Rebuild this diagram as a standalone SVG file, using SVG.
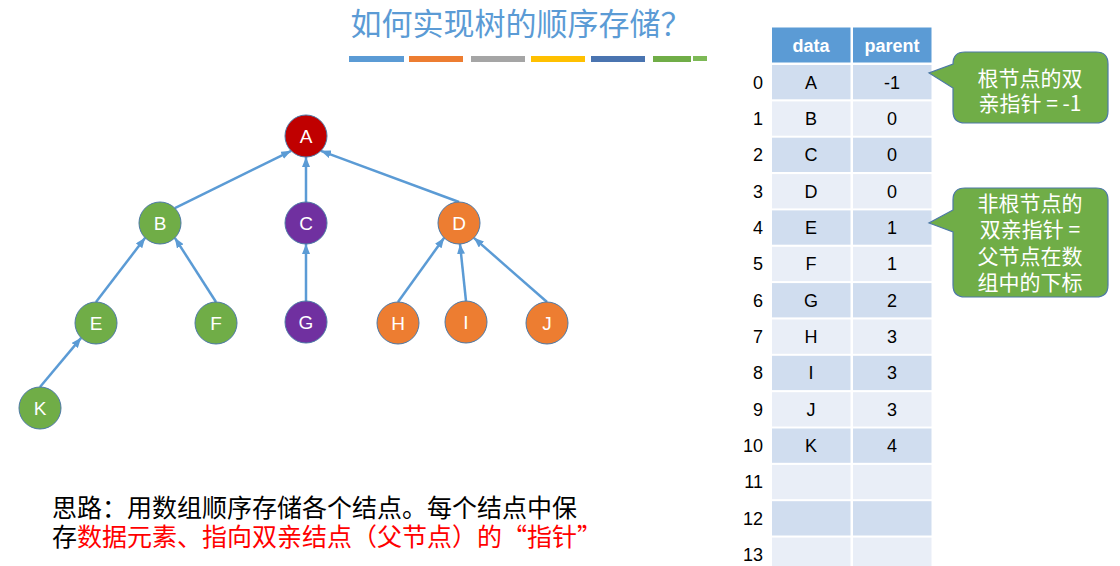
<svg xmlns="http://www.w3.org/2000/svg" width="1120" height="566" viewBox="0 0 1120 566">
<style>
.title{font-family:"Noto Sans CJK SC",sans-serif;font-size:31px;fill:#5B9BD5;text-anchor:middle}
.node circle{stroke:#4D79A6;stroke-width:1}
.node text{font-family:"Liberation Sans",Arial,sans-serif;font-size:19px;fill:#fff;text-anchor:middle}
.g{fill:#70AD47}.p{fill:#7030A0}.o{fill:#ED7D31}.r{fill:#C00000}
.edge{stroke:#5B9BD5;stroke-width:2.5;fill:none;marker-end:url(#ah)}
.hd{fill:#5B9BD5}
.hdt{font-family:"Liberation Sans",Arial,sans-serif;font-size:18px;font-weight:bold;fill:#fff;text-anchor:middle}
.rd{fill:#D0DDEF}.rl{fill:#E9EEF7}
.ct{font-family:"Liberation Sans",Arial,sans-serif;font-size:18px;fill:#000;text-anchor:middle}
.ix{font-family:"Liberation Sans",Arial,sans-serif;font-size:18px;fill:#000;text-anchor:end}
.call{fill:#70AD47;stroke:#4D79A6;stroke-width:1.2}
.callt{font-family:"Noto Sans CJK SC",sans-serif;font-size:21px;fill:#fff;text-anchor:middle}
.body{font-family:"Noto Sans CJK SC",sans-serif;font-size:25px;fill:#000}
.red{fill:#FF0000}
</style>
<defs>
<marker id="ah" markerUnits="userSpaceOnUse" markerWidth="10" markerHeight="8" refX="10" refY="4" orient="auto">
<path d="M0,0 L10,4 L0,8 z" fill="#5B9BD5"/>
</marker>
</defs>
<rect width="1120" height="566" fill="#fff"/>

<g id="title">
<text class="title" x="521" y="35">如何实现树的顺序存储？</text>
<rect x="349" y="56" width="55" height="6" fill="#5B9BD5"/>
<rect x="409" y="56" width="54" height="6" fill="#ED7D31"/>
<rect x="471" y="56" width="54" height="6" fill="#A5A5A5"/>
<rect x="531" y="56" width="54" height="6" fill="#FFC000"/>
<rect x="591" y="56" width="54" height="6" fill="#4A74B0"/>
<rect x="653" y="56" width="38" height="6" fill="#70AD47"/>
<rect x="693" y="56" width="14" height="5" fill="#7DB956"/>
</g>

<g id="connectors">
<line class="edge" x1="174.85" y1="208.15" x2="291.15" y2="150.85"/>
<line class="edge" x1="306" y1="202" x2="306" y2="157"/>
<line class="edge" x1="459" y1="202" x2="320.85" y2="150.85"/>
<line class="edge" x1="96" y1="302" x2="145.15" y2="237.85"/>
<line class="edge" x1="216" y1="302" x2="174.85" y2="237.85"/>
<line class="edge" x1="306" y1="301" x2="306" y2="244"/>
<line class="edge" x1="398" y1="302" x2="444.15" y2="237.85"/>
<line class="edge" x1="466" y1="301" x2="460" y2="244"/>
<line class="edge" x1="547" y1="302" x2="473.85" y2="237.85"/>
<line class="edge" x1="40" y1="387" x2="81.15" y2="337.85"/>
</g>

<g id="node-A" class="node"><circle class="r" cx="306" cy="136" r="21"/><text x="306" y="143">A</text></g>
<g id="node-B" class="node"><circle class="g" cx="160" cy="223" r="21"/><text x="160" y="230">B</text></g>
<g id="node-C" class="node"><circle class="p" cx="306" cy="223" r="21"/><text x="306" y="230">C</text></g>
<g id="node-D" class="node"><circle class="o" cx="459" cy="223" r="21"/><text x="459" y="230">D</text></g>
<g id="node-E" class="node"><circle class="g" cx="96" cy="323" r="21"/><text x="96" y="330">E</text></g>
<g id="node-F" class="node"><circle class="g" cx="216" cy="323" r="21"/><text x="216" y="330">F</text></g>
<g id="node-G" class="node"><circle class="p" cx="306" cy="322" r="21"/><text x="306" y="329">G</text></g>
<g id="node-H" class="node"><circle class="o" cx="398" cy="323" r="21"/><text x="398" y="330">H</text></g>
<g id="node-I" class="node"><circle class="o" cx="466" cy="322" r="21"/><text x="466" y="329">I</text></g>
<g id="node-J" class="node"><circle class="o" cx="547" cy="323" r="21"/><text x="547" y="330">J</text></g>
<g id="node-K" class="node"><circle class="g" cx="40" cy="408" r="21"/><text x="40" y="415">K</text></g>

<g id="table">
<rect class="hd" x="772" y="27.5" width="78.5" height="35"/>
<rect class="hd" x="853" y="27.5" width="78.5" height="35"/>
<text class="hdt" x="811" y="51.5">data</text>
<text class="hdt" x="892" y="51.5">parent</text>

<rect class="rd" x="772" y="65" width="78.5" height="34.3"/><rect class="rd" x="853" y="65" width="78.5" height="34.3"/>
<rect class="rl" x="772" y="101.4" width="78.5" height="34.3"/><rect class="rl" x="853" y="101.4" width="78.5" height="34.3"/>
<rect class="rd" x="772" y="137.7" width="78.5" height="34.3"/><rect class="rd" x="853" y="137.7" width="78.5" height="34.3"/>
<rect class="rl" x="772" y="174.1" width="78.5" height="34.3"/><rect class="rl" x="853" y="174.1" width="78.5" height="34.3"/>
<rect class="rd" x="772" y="210.4" width="78.5" height="34.3"/><rect class="rd" x="853" y="210.4" width="78.5" height="34.3"/>
<rect class="rl" x="772" y="246.8" width="78.5" height="34.3"/><rect class="rl" x="853" y="246.8" width="78.5" height="34.3"/>
<rect class="rd" x="772" y="283.1" width="78.5" height="34.3"/><rect class="rd" x="853" y="283.1" width="78.5" height="34.3"/>
<rect class="rl" x="772" y="319.5" width="78.5" height="34.3"/><rect class="rl" x="853" y="319.5" width="78.5" height="34.3"/>
<rect class="rd" x="772" y="355.8" width="78.5" height="34.3"/><rect class="rd" x="853" y="355.8" width="78.5" height="34.3"/>
<rect class="rl" x="772" y="392.2" width="78.5" height="34.3"/><rect class="rl" x="853" y="392.2" width="78.5" height="34.3"/>
<rect class="rd" x="772" y="428.5" width="78.5" height="34.3"/><rect class="rd" x="853" y="428.5" width="78.5" height="34.3"/>
<rect class="rl" x="772" y="464.9" width="78.5" height="34.3"/><rect class="rl" x="853" y="464.9" width="78.5" height="34.3"/>
<rect class="rd" x="772" y="501.2" width="78.5" height="34.3"/><rect class="rd" x="853" y="501.2" width="78.5" height="34.3"/>
<rect class="rl" x="772" y="537.6" width="78.5" height="30"/><rect class="rl" x="853" y="537.6" width="78.5" height="30"/>

<text class="ix" x="763" y="88.5">0</text><text class="ct" x="811" y="88.5">A</text><text class="ct" x="892" y="88.5">-1</text>
<text class="ix" x="763" y="124.9">1</text><text class="ct" x="811" y="124.9">B</text><text class="ct" x="892" y="124.9">0</text>
<text class="ix" x="763" y="161.2">2</text><text class="ct" x="811" y="161.2">C</text><text class="ct" x="892" y="161.2">0</text>
<text class="ix" x="763" y="197.6">3</text><text class="ct" x="811" y="197.6">D</text><text class="ct" x="892" y="197.6">0</text>
<text class="ix" x="763" y="233.9">4</text><text class="ct" x="811" y="233.9">E</text><text class="ct" x="892" y="233.9">1</text>
<text class="ix" x="763" y="270.3">5</text><text class="ct" x="811" y="270.3">F</text><text class="ct" x="892" y="270.3">1</text>
<text class="ix" x="763" y="306.6">6</text><text class="ct" x="811" y="306.6">G</text><text class="ct" x="892" y="306.6">2</text>
<text class="ix" x="763" y="343">7</text><text class="ct" x="811" y="343">H</text><text class="ct" x="892" y="343">3</text>
<text class="ix" x="763" y="379.3">8</text><text class="ct" x="811" y="379.3">I</text><text class="ct" x="892" y="379.3">3</text>
<text class="ix" x="763" y="415.7">9</text><text class="ct" x="811" y="415.7">J</text><text class="ct" x="892" y="415.7">3</text>
<text class="ix" x="763" y="452">10</text><text class="ct" x="811" y="452">K</text><text class="ct" x="892" y="452">4</text>
<text class="ix" x="763" y="488.4">11</text>
<text class="ix" x="763" y="524.7">12</text>
<text class="ix" x="763" y="561.1">13</text>
</g>

<g id="callout-root">
<path class="call" d="M965,52 H1096 Q1108,52 1108,64 V111 Q1108,123 1096,123 H965 Q953,123 953,111 V88 L929,73 L953,64 Q953,52 965,52 Z"/>
<text class="callt" x="1030" y="86">根节点的双</text>
<text class="callt" x="1030" y="111">亲指针 = -1</text>
</g>

<g id="callout-nonroot">
<path class="call" d="M965,188 H1096 Q1108,188 1108,200 V285 Q1108,297 1096,297 H965 Q953,297 953,285 V232 L929,223 L953,210 V200 Q953,188 965,188 Z"/>
<text class="callt" x="1030" y="211">非根节点的</text>
<text class="callt" x="1030" y="237">双亲指针 =</text>
<text class="callt" x="1030" y="264">父节点在数</text>
<text class="callt" x="1030" y="290">组中的下标</text>
</g>

<g id="note">
<text class="body" x="52" y="517">思路：用数组顺序存储各个结点。每个结点中保</text>
<text class="body" x="52" y="546">存<tspan class="red">数据元素、指向双亲结点（父节点）的“指针”</tspan></text>
</g>
</svg>
